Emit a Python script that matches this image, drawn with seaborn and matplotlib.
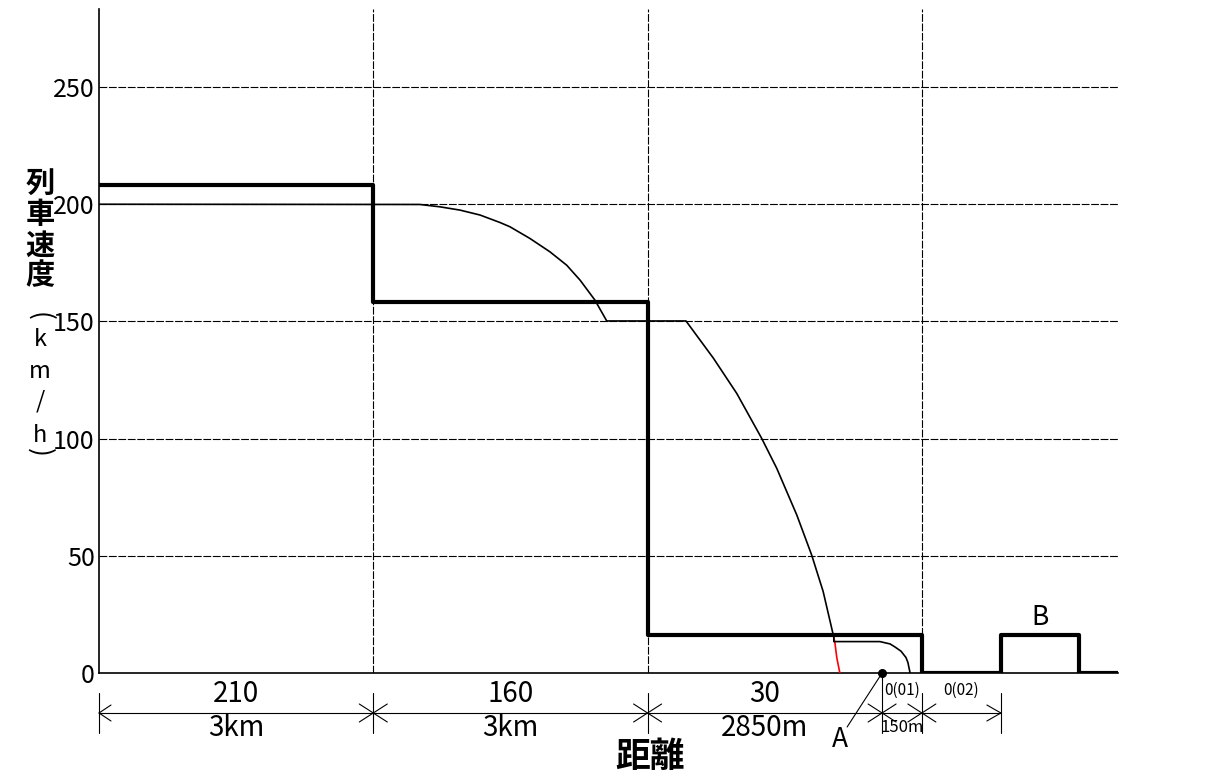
import matplotlib
matplotlib.use('Agg')
import matplotlib.pyplot as plt
import seaborn as sns

# speed limit (steps) per block, x in block units
limit_x = [0, 1, 2, 3, 3.288, 3.572, 3.715]
limit_y = [208, 158.5, 16, 0, 16, 0, 0]

# braking curve (black part)
brake_x = [0, 1.170, 1.243, 1.316, 1.389, 1.462, 1.498, 1.571, 1.644, 1.705,
           1.754, 1.808, 1.851,
           2.140, 2.240, 2.325, 2.416, 2.471, 2.544, 2.598, 2.640, 2.677]
brake_y = [200, 199.9, 198.9, 197.5, 195.4, 192.2, 190.4, 185.4, 179.7, 174.0,
           167.6, 159.1, 150.2,
           150.2, 134.3, 119.3, 100.1, 87.3, 67.4, 50.4, 34.8, 16.2]
# red tail of braking curve
red_x = [2.677, 2.683, 2.690, 2.701]
red_y = [16.2, 12.8, 6.4, 0]
# second small braking curve
stop_x = [2.679, 2.679, 2.847, 2.884, 2.902, 2.924, 2.942, 2.949, 2.957]
stop_y = [16.2, 13.4, 13.4, 12.4, 11.1, 9.3, 6.6, 4.5, 0]

point_a = (2.855, 0)

# dimension line below the axis
dim_x = [0, 1, 2, 2.855, 3, 3.288]
top_labels = ['210', '160', '30', '0(01)', '0(02)']
bottom_labels = ['3km', '3km', '2850m', '150m', '']
yticks = [0, 50, 100, 150, 200, 250]
grid_x = [1, 2, 3]
ylabel_chars = ['列', '車', '速', '度', '(', 'k', 'm', '/', 'h', ')']

cjk = 'Noto Sans CJK JP'
sns.set_style('white')
plt.rcParams['font.family'] = [cjk, 'DejaVu Sans']
plt.rcParams['text.color'] = 'black'
plt.rcParams['ytick.color'] = 'black'

fig = plt.figure(figsize=(12.08, 7.83), dpi=100)
ax = fig.add_axes([99 / 1208, 110 / 783, 1019 / 1208, 664 / 783])
XMAX, YMAX = 3.715, 283.3
ax.set_xlim(0, XMAX)
ax.set_ylim(0, YMAX)

dash = (0, (7, 1.5))
for g in yticks[1:]:
    ax.plot([0, XMAX], [g, g], color='black', lw=0.8, ls=dash, zorder=1)
for g in grid_x:
    ax.plot([g, g], [0, YMAX], color='black', lw=0.8, ls=dash, zorder=1)

sns.lineplot(x=brake_x, y=brake_y, ax=ax, color='black', lw=1.2,
             estimator=None, sort=False, zorder=3)
sns.lineplot(x=red_x, y=red_y, ax=ax, color='red', lw=1.2,
             estimator=None, sort=False, zorder=3)
sns.lineplot(x=stop_x, y=stop_y, ax=ax, color='black', lw=1.2,
             estimator=None, sort=False, zorder=3)
sns.lineplot(x=limit_x, y=limit_y, ax=ax, color='black', lw=3,
             drawstyle='steps-post', estimator=None, sort=False, zorder=4)
ax.scatter([point_a[0]], [point_a[1]], s=30, color='black', zorder=5, clip_on=False)

# axes look
for s in ['top', 'right']:
    ax.spines[s].set_visible(False)
for s in ['left', 'bottom']:
    ax.spines[s].set_color('black')
    ax.spines[s].set_linewidth(1.2)
ax.set_xticks([])
ax.set_yticks(yticks)
ax.set_yticklabels([str(t) for t in yticks], fontsize=18, color='black')
ax.tick_params(axis='y', length=0, pad=3)

# dimension line
py = 50 / 117.2  # speed units per pixel
px = 1 / 274.3   # x units per pixel
dim_y = -40 * py
kw = dict(color='black', lw=0.8, clip_on=False)
ax.plot([dim_x[0], dim_x[-1]], [dim_y, dim_y], **kw)
for i, x in enumerate(dim_x):
    top = 0 if x == point_a[0] else -20 * py
    ax.plot([x, x], [top, -60 * py], **kw)
    for s in (1, -1):
        if i == 0:
            ax.plot([x, x + 12 * px], [dim_y, dim_y + s * 8 * py], **kw)
        elif i == len(dim_x) - 1:
            ax.plot([x, x - 14 * px], [dim_y, dim_y + s * 8 * py], **kw)
        else:
            ax.plot([x - 14 * px, x + 14 * px], [dim_y - s * 9 * py, dim_y + s * 9 * py], **kw)

for i in range(len(dim_x) - 1):
    mid = (dim_x[i] + dim_x[i + 1]) / 2
    small = i >= 3
    ax.text(mid, -17 * py if small else -21 * py, top_labels[i],
            ha='center', va='center', fontsize=11 if small else 20)
    if bottom_labels[i]:
        ax.text(mid, -55 * py, bottom_labels[i], ha='center', va='center',
                fontsize=12 if small else 20)

# A leader and labels
ax.plot([point_a[0], point_a[0] - 35 * px], [0, -54 * py], **kw)
ax.text(point_a[0] - 42 * px, -67 * py, 'A', ha='center', va='center', fontsize=19)
ax.text((limit_x[4] + limit_x[5]) / 2, 56 * py, 'B', ha='center', va='center', fontsize=19)

fig.text(650 / 1208, 1 - 757 / 783, '距離', ha='center', va='center',
         fontsize=25, fontweight='bold')

# vertical axis title, one character per line
ylab_pos = [183, 214, 246, 275, 316, 339, 372, 401, 436, 452]
for ch, yp in zip(ylabel_chars, ylab_pos):
    latin = ch in 'km/h'
    bracket = ch in '()'
    fig.text(40 / 1208, 1 - yp / 783, ch, ha='center', va='center',
             fontsize=17 if latin else (19 if bracket else 21),
             fontweight='bold' if not (latin or bracket) else 'normal',
             rotation=-90 if bracket else 0)

fig.savefig('out.png', dpi=100, facecolor='white')
